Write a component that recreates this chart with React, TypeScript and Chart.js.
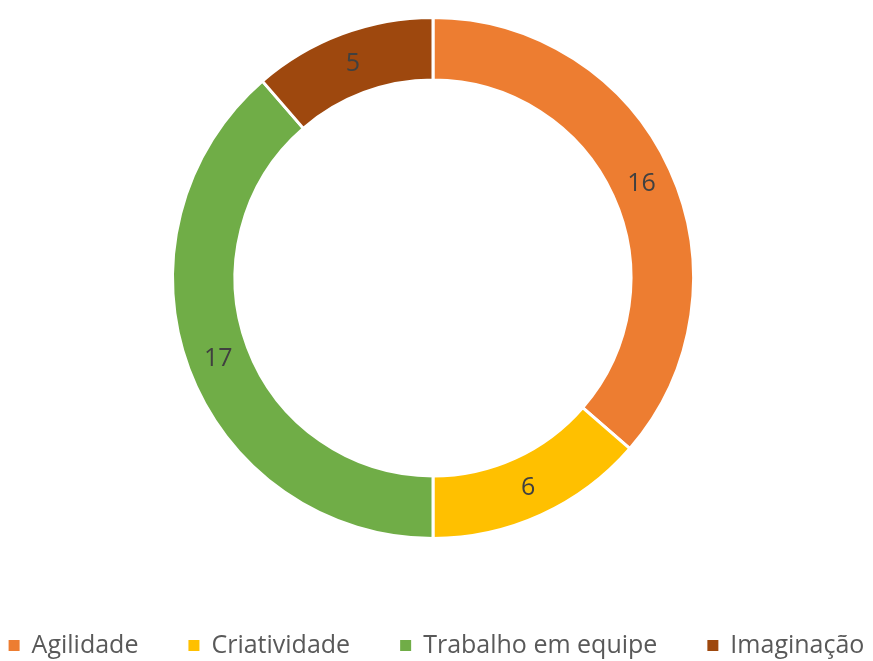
import React, { useEffect, useRef } from "react";
import { Chart, registerables } from "chart.js";

Chart.register(...registerables);

const categories = ["Agilidade", "Criatividade", "Trabalho em equipe", "Imaginação"];
const values = [16, 6, 17, 5];
const colors = ["#ED7D31", "#FFC000", "#70AD47", "#9E480E"];

const FONT = "'Open Sans', 'DejaVu Sans', sans-serif";

const labelPlugin = {
  id: "arcLabels",
  afterDatasetsDraw(chart: any) {
    const ctx = chart.ctx;
    const meta = chart.getDatasetMeta(0);
    ctx.save();
    ctx.font = `25px ${FONT}`;
    ctx.fillStyle = "#404040";
    ctx.textAlign = "center";
    ctx.textBaseline = "middle";
    meta.data.forEach((arc: any, i: number) => {
      const { x, y, startAngle, endAngle, innerRadius, outerRadius } = arc.getProps(
        ["x", "y", "startAngle", "endAngle", "innerRadius", "outerRadius"],
        true
      );
      const a = (startAngle + endAngle) / 2;
      const r = (innerRadius + outerRadius) / 2;
      ctx.fillText(String(values[i]), x + Math.cos(a) * r, y + Math.sin(a) * r + 1);
    });
    ctx.restore();
  },
};

const legendPlugin = {
  id: "bottomLegend",
  afterDraw(chart: any) {
    const ctx = chart.ctx;
    const box = 11;
    const gap = 12;
    const spacing = 50;
    const cy = 645.5;
    ctx.save();
    ctx.font = `25px ${FONT}`;
    ctx.textBaseline = "middle";
    ctx.textAlign = "left";
    const widths = categories.map((c) => ctx.measureText(c).width);
    const total =
      widths.reduce((s, w) => s + box + gap + w, 0) + spacing * (categories.length - 1);
    let x = (chart.width - total) / 2;
    categories.forEach((c, i) => {
      ctx.fillStyle = colors[i];
      ctx.fillRect(x, cy - box / 2, box, box);
      ctx.fillStyle = "#595959";
      ctx.fillText(c, x + box + gap, cy);
      x += box + gap + widths[i] + spacing;
    });
    ctx.restore();
  },
};

export default function App() {
  const ref = useRef<HTMLCanvasElement>(null);
  useEffect(() => {
    if (!ref.current) return;
    const chart = new Chart(ref.current, {
      type: "doughnut",
      data: {
        labels: categories,
        datasets: [
          {
            data: values,
            backgroundColor: colors,
            borderColor: "#FFFFFF",
            borderWidth: 3,
          },
        ],
      },
      options: {
        animation: false,
        responsive: false,
        cutout: "76%",
        layout: { padding: { top: 16, left: 0, right: 7, bottom: 121 } },
        plugins: {
          tooltip: { enabled: false },
          legend: { display: false },
        },
      },
      plugins: [labelPlugin, legendPlugin],
    });
    return () => chart.destroy();
  }, []);
  return (
    <div style={{ position: "fixed", left: 0, top: 0, width: 873, height: 661, background: "#fff" }}>
      <canvas ref={ref} width={873} height={661} style={{ width: 873, height: 661 }} />
    </div>
  );
}
